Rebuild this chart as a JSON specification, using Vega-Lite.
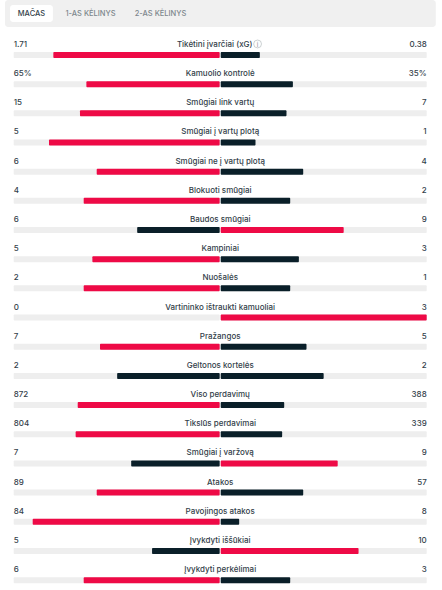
{"$schema":"https://vega.github.io/schema/vega-lite/v6.json","width":442,"height":590,"autosize":{"type":"none"},"padding":0,"background":"#ffffff","config":{"view":{"stroke":null},"text":{"font":"Inter"}},
"resolve":{"scale":{"fill":"independent","color":"independent"}},
"datasets":{
"panels":[{"name":"strip","x0":-104.2,"x1":104.4,"y0":-0.8836,"y1":0.041},{"name":"tab","x0":-101.8,"x1":-81,"y0":-0.712,"y1":-0.13}],
"tabs":[{"tab":"MAČAS","at":-91.4,"slot":-0.4,"state":"on"},{"tab":"1-AS KĖLINYS","at":-62.8,"slot":-0.4,"state":"off"},{"tab":"2-AS KĖLINYS","at":-28.9,"slot":-0.4,"state":"off"}],
"stats":[
{"row":1,"label":"Tikėtini įvarčiai (xG)","home":"1.71","away":"0.38"},
{"row":2,"label":"Kamuolio kontrolė","home":"65%","away":"35%"},
{"row":3,"label":"Smūgiai link vartų","home":"15","away":"7"},
{"row":4,"label":"Smūgiai į vartų plotą","home":"5","away":"1"},
{"row":5,"label":"Smūgiai ne į vartų plotą","home":"6","away":"4"},
{"row":6,"label":"Blokuoti smūgiai","home":"4","away":"2"},
{"row":7,"label":"Baudos smūgiai","home":"6","away":"9"},
{"row":8,"label":"Kampiniai","home":"5","away":"3"},
{"row":9,"label":"Nuošalės","home":"2","away":"1"},
{"row":10,"label":"Vartininko ištraukti kamuoliai","home":"0","away":"3"},
{"row":11,"label":"Pražangos","home":"7","away":"5"},
{"row":12,"label":"Geltonos kortelės","home":"2","away":"2"},
{"row":13,"label":"Viso perdavimų","home":"872","away":"388"},
{"row":14,"label":"Tikslūs perdavimai","home":"804","away":"339"},
{"row":15,"label":"Smūgiai į varžovą","home":"7","away":"9"},
{"row":16,"label":"Atakos","home":"89","away":"57"},
{"row":17,"label":"Pavojingos atakos","home":"84","away":"8"},
{"row":18,"label":"Įvykdyti iššūkiai","home":"5","away":"10"},
{"row":19,"label":"Įvykdyti perkėlimai","home":"6","away":"3"}],
"bars":[
{"row":1,"base":-0.25,"edge":-100,"share":-80.8,"tone":"lead"},{"row":1,"base":0.25,"edge":100,"share":19.2,"tone":"other"},
{"row":2,"base":-0.25,"edge":-100,"share":-64.8,"tone":"lead"},{"row":2,"base":0.25,"edge":100,"share":35.2,"tone":"other"},
{"row":3,"base":-0.25,"edge":-100,"share":-67.9,"tone":"lead"},{"row":3,"base":0.25,"edge":100,"share":32.1,"tone":"other"},
{"row":4,"base":-0.25,"edge":-100,"share":-82.9,"tone":"lead"},{"row":4,"base":0.25,"edge":100,"share":17.1,"tone":"other"},
{"row":5,"base":-0.25,"edge":-100,"share":-59.8,"tone":"lead"},{"row":5,"base":0.25,"edge":100,"share":40.2,"tone":"other"},
{"row":6,"base":-0.25,"edge":-100,"share":-66.1,"tone":"lead"},{"row":6,"base":0.25,"edge":100,"share":33.9,"tone":"other"},
{"row":7,"base":-0.25,"edge":-100,"share":-40.2,"tone":"other"},{"row":7,"base":0.25,"edge":100,"share":59.8,"tone":"lead"},
{"row":8,"base":-0.25,"edge":-100,"share":-61.9,"tone":"lead"},{"row":8,"base":0.25,"edge":100,"share":38.1,"tone":"other"},
{"row":9,"base":-0.25,"edge":-100,"share":-66.1,"tone":"lead"},{"row":9,"base":0.25,"edge":100,"share":33.9,"tone":"other"},
{"row":10,"base":-0.25,"edge":-100,"share":-0.25,"tone":"other"},{"row":10,"base":0.25,"edge":100,"share":100,"tone":"lead"},
{"row":11,"base":-0.25,"edge":-100,"share":-58.2,"tone":"lead"},{"row":11,"base":0.25,"edge":100,"share":41.8,"tone":"other"},
{"row":12,"base":-0.25,"edge":-100,"share":-49.9,"tone":"other"},{"row":12,"base":0.25,"edge":100,"share":50.1,"tone":"other"},
{"row":13,"base":-0.25,"edge":-100,"share":-69,"tone":"lead"},{"row":13,"base":0.25,"edge":100,"share":31,"tone":"other"},
{"row":14,"base":-0.25,"edge":-100,"share":-70,"tone":"lead"},{"row":14,"base":0.25,"edge":100,"share":30,"tone":"other"},
{"row":15,"base":-0.25,"edge":-100,"share":-43.1,"tone":"other"},{"row":15,"base":0.25,"edge":100,"share":56.9,"tone":"lead"},
{"row":16,"base":-0.25,"edge":-100,"share":-59.8,"tone":"lead"},{"row":16,"base":0.25,"edge":100,"share":40.2,"tone":"other"},
{"row":17,"base":-0.25,"edge":-100,"share":-90.8,"tone":"lead"},{"row":17,"base":0.25,"edge":100,"share":9.2,"tone":"other"},
{"row":18,"base":-0.25,"edge":-100,"share":-33,"tone":"other"},{"row":18,"base":0.25,"edge":100,"share":67,"tone":"lead"},
{"row":19,"base":-0.25,"edge":-100,"share":-66.1,"tone":"lead"},{"row":19,"base":0.25,"edge":100,"share":33.9,"tone":"other"}]
},
"data":{"name":"stats"},
"layer":[
{"data":{"name":"panels"},"mark":{"type":"rect","cornerRadius":3},"encoding":{
"x":{"field":"x0","type":"quantitative","axis":null,"scale":{"domain":[-106.63,107.41],"nice":false,"zero":false,"padding":0}},"x2":{"field":"x1"},
"y":{"field":"y0","type":"quantitative","axis":null,"scale":{"domain":[-0.8836,19.3384],"reverse":true,"nice":false,"zero":false,"padding":0}},"y2":{"field":"y1"},
"fill":{"field":"name","type":"nominal","legend":null,"scale":{"domain":["strip","tab"],"range":["#f0f0f0","#ffffff"]}}}},
{"data":{"name":"tabs"},"mark":{"type":"text","fontSize":7.5,"fontWeight":500,"letterSpacing":0.4,"align":"center","baseline":"middle"},"encoding":{"x":{"field":"at","type":"quantitative"},"y":{"field":"slot","type":"quantitative"},"text":{"field":"tab"},
"color":{"field":"state","type":"nominal","legend":null,"scale":{"domain":["on","off"],"range":["#33414a","#7d878c"]}}}},
{"data":{"name":"bars"},"mark":{"type":"bar","color":"#eeeeee","size":6,"orient":"horizontal","cornerRadius":1},"encoding":{"x":{"field":"base","type":"quantitative"},"x2":{"field":"edge"},"y":{"field":"row","type":"quantitative"}}},
{"data":{"name":"bars"},"transform":[{"filter":"abs(datum.share) > 1"}],"mark":{"type":"bar","size":6,"orient":"horizontal","cornerRadius":1},"encoding":{
"x":{"field":"base","type":"quantitative"},"x2":{"field":"share"},
"y":{"field":"row","type":"quantitative"},
"fill":{"field":"tone","type":"nominal","legend":null,"scale":{"domain":["lead","other"],"range":["#ee0a46","#0a1f29"]}}}},
{"transform":[{"filter":"datum.row > 1"}],"mark":{"type":"text","fontSize":8,"fontWeight":500,"color":"#33414a","letterSpacing":0.2,"align":"center","baseline":"middle","dy":-10},"encoding":{"x":{"datum":0,"type":"quantitative"},"y":{"field":"row","type":"quantitative"},"text":{"field":"label"}}},
{"transform":[{"filter":"datum.row == 1"}],"mark":{"type":"text","fontSize":8,"fontWeight":500,"color":"#33414a","letterSpacing":0.2,"align":"center","baseline":"middle","dy":-10,"dx":-5.5},"encoding":{"x":{"datum":0,"type":"quantitative"},"y":{"field":"row","type":"quantitative"},"text":{"field":"label"}}},
{"transform":[{"filter":"datum.row == 1"}],"mark":{"type":"point","shape":"circle","filled":false,"size":62,"stroke":"#9aa3a7","strokeWidth":0.7,"yOffset":-11},"encoding":{"x":{"datum":18.1,"type":"quantitative"},"y":{"field":"row","type":"quantitative"}}},
{"transform":[{"filter":"datum.row == 1"}],"mark":{"type":"text","fontSize":6.5,"color":"#8a9398","align":"center","baseline":"middle","dy":-10},"encoding":{"x":{"datum":18.1,"type":"quantitative"},"y":{"field":"row","type":"quantitative"},"text":{"value":"i"}}},
{"mark":{"type":"text","fontSize":8,"fontWeight":500,"color":"#33414a","letterSpacing":0.35,"align":"left","baseline":"middle","dy":-10},"encoding":{"x":{"datum":-100,"type":"quantitative"},"y":{"field":"row","type":"quantitative"},"text":{"field":"home"}}},
{"mark":{"type":"text","fontSize":8,"fontWeight":500,"color":"#33414a","letterSpacing":0.35,"align":"right","baseline":"middle","dy":-10},"encoding":{"x":{"datum":100,"type":"quantitative"},"y":{"field":"row","type":"quantitative"},"text":{"field":"away"}}}
]}
